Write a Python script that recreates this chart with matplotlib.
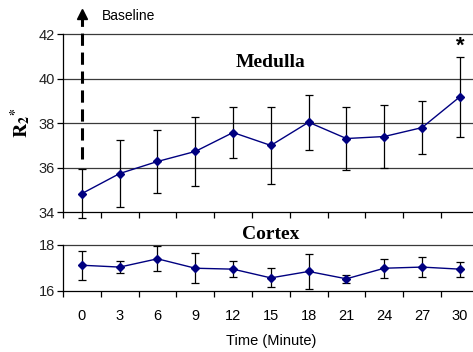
import numpy as np
import matplotlib
matplotlib.use("Agg")
import matplotlib.pyplot as plt

# ---------------------------------------------------------
# data
# ---------------------------------------------------------
minutes = [0, 3, 6, 9, 12, 15, 18, 21, 24, 27, 30]

medulla = [34.84, 35.74, 36.28, 36.73, 37.58, 37.0, 38.04, 37.31, 37.4, 37.8, 39.18]
medulla_err = [1.1, 1.49, 1.4, 1.55, 1.16, 1.73, 1.23, 1.41, 1.4, 1.2, 1.78]

cortex = [17.12, 17.04, 17.4, 16.99, 16.95, 16.57, 16.85, 16.53, 16.99, 17.04, 16.95]
cortex_err = [0.63, 0.27, 0.54, 0.65, 0.34, 0.41, 0.77, 0.18, 0.42, 0.44, 0.32]

medulla_ticks = [34, 36, 38, 40, 42]
cortex_ticks = [16, 18]

plt.rcParams["font.family"] = ["Liberation Sans", "DejaVu Sans"]
plt.rcParams["mathtext.fontset"] = "stix"

fig = plt.figure(figsize=(4.73, 3.52), dpi=100)
W, H = 473.0, 352.0

# axes in pixel coordinates of the reference
left, right = 63 / W, 478.7 / W
ax1 = fig.add_axes([left, 1 - 212.3 / H, right - left, (212.3 - 34) / H])
ax2 = fig.add_axes([left, 1 - 291 / H, right - left, (291 - 245) / H])

line_color = "#000080"
xlim = (-1.5, 31.5)
bounds = np.arange(-1.5, 32, 3)


def style_axes(ax, yticks):
    for s in ["top", "right"]:
        ax.spines[s].set_visible(False)
    ax.spines["left"].set_linewidth(0.9)
    ax.spines["bottom"].set_linewidth(0.9)
    ax.set_xlim(*xlim)
    ax.set_ylim(yticks[0], yticks[-1])
    ax.set_yticks(yticks)
    ax.tick_params(axis="y", direction="out", length=4, width=0.9,
                   labelsize=10.5, labelcolor="#222222", pad=2)
    for y in yticks[1:]:
        ax.axhline(y, color="#3a3a3a", lw=0.9, zorder=0, clip_on=False)


def draw_series(ax, y, err):
    ax.errorbar(minutes, y, yerr=err, fmt="none", ecolor="black",
                elinewidth=0.9, capsize=3, capthick=0.9, zorder=2, clip_on=False)
    ax.plot(minutes, y, color=line_color, lw=1.0, marker="D", ms=4,
            mfc=line_color, mec=line_color, zorder=3, clip_on=False)


# medulla
style_axes(ax1, medulla_ticks)
draw_series(ax1, medulla, medulla_err)
ax1.set_xticks(bounds)
ax1.set_xticklabels([])
ax1.tick_params(axis="x", direction="out", length=4, width=0.9)
ax1.text(15, 40.7, "Medulla", family="Liberation Serif", weight="bold",
         fontsize=14, ha="center", va="center")
ax1.text(30, 41.45, "*", family="Liberation Sans", weight="bold",
         fontsize=16, ha="center", va="center")
ax1.set_ylabel(r"$\mathbf{R_2{}^{*}}$", fontsize=14, labelpad=4)

# baseline arrow
ax1.plot([0, 0], [36.4, 42.7], color="black", lw=2.2, dashes=(4, 2.2),
         clip_on=False, zorder=4)
ax1.plot([0], [42.9], marker="^", color="black", ms=7, clip_on=False, zorder=4)
ax1.text(1.6, 42.8, "Baseline", fontsize=10, ha="left", va="center")

# cortex
style_axes(ax2, cortex_ticks)
draw_series(ax2, cortex, cortex_err)
ax2.set_xticks(minutes)
ax2.set_xticklabels([str(m) for m in minutes])
ax2.set_xticks(bounds, minor=True)
ax2.tick_params(axis="x", which="major", length=0, labelsize=10.5, pad=13)
ax2.tick_params(axis="x", which="minor", direction="out", length=4, width=0.9)
ax2.text(15, 18.45, "Cortex", family="Liberation Serif", weight="bold",
         fontsize=14, ha="center", va="center")
ax2.set_xlabel("Time (Minute)", fontsize=10.5, labelpad=8)

fig.savefig("out.png", dpi=100)
